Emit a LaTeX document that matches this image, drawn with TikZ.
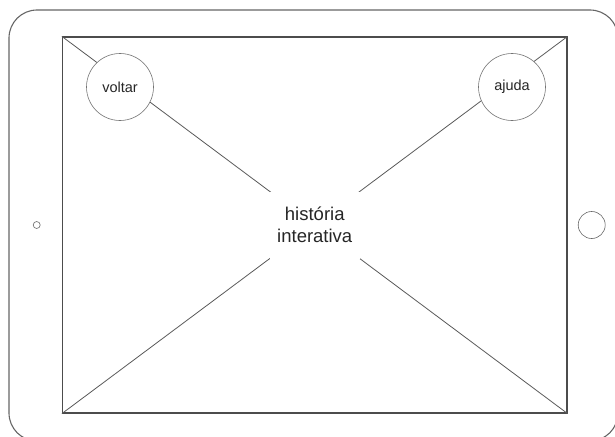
\documentclass[tikz,border=0pt]{standalone}
\usepackage{fontspec}
\setmainfont{Liberation Sans}
\tikzset{
  button/.style={circle,draw=black!55,fill=white,minimum size=67pt,inner sep=0pt,
    font=\fontsize{14.5}{17}\selectfont},
  sensor/.style={circle,draw=black!60,inner sep=0pt},
}
\begin{document}
\begin{tikzpicture}[x=1pt,y=-1pt,semithick,text=black!85]
\clip (0,0) rectangle (615,436);
% tablet frame
\draw[black!60,line width=1.1pt,rounded corners=28pt] (9,10) rectangle (618,441);
\node[draw=black!70,line width=1.2pt,minimum width=504.5pt,minimum height=376pt,inner sep=0pt] (screen) at (314.75,225) {};
\draw[black!65,line width=0.8pt] (screen.north west) -- (screen.south east)
                                 (screen.north east) -- (screen.south west);
% labels on the screen
\node[fill=white,minimum width=90pt,minimum height=67pt,align=center,
      font=\fontsize{18.5}{22}\selectfont] (story) at (screen.center) {história\\interativa};
\node[button] (back) at (120,87) {voltar};
\node[button] (help) at (512,87) {ajuda};
% camera and home button
\node[sensor,minimum size=7pt]  (camera) at (36.7,225)  {};
\node[sensor,minimum size=27pt] (home)   at (591.7,225) {};
\end{tikzpicture}
\end{document}
